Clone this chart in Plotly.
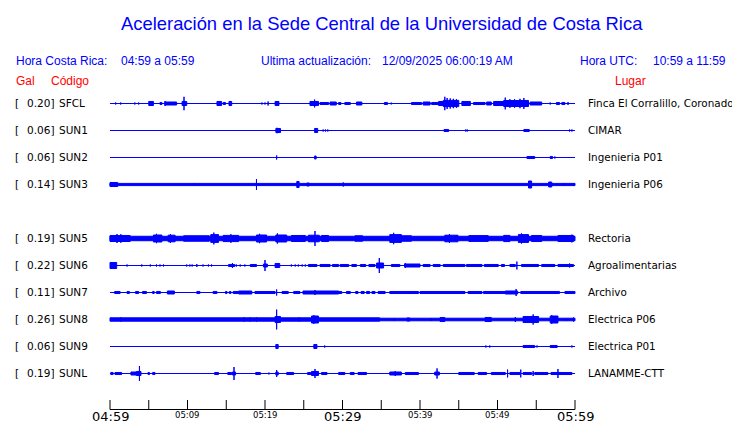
import plotly.graph_objects as go

# ---------------- data ----------------
stations = ["SFCL", "SUN1", "SUN2", "SUN3", "SUN5", "SUN6", "SUN7", "SUN8", "SUN9", "SUNL"]
peak_gal = ["0.20", "0.06", "0.06", "0.14", "0.19", "0.22", "0.11", "0.26", "0.06", "0.19"]
places = ["Finca El Corralillo, Coronado", "CIMAR", "Ingenieria P01", "Ingenieria P06",
          "Rectoria", "Agroalimentarias", "Archivo", "Electrica P06", "Electrica P01", "LANAMME-CTT"]

tick_labels = ["04:59", "05:04", "05:09", "05:14", "05:19", "05:24", "05:29",
               "05:34", "05:39", "05:44", "05:49", "05:54", "05:59"]

# envelope segments: (start minute, end minute, half amplitude in Gal)
sfcl_events = [
    (0.73, 0.73, 0.038), (1.38, 1.38, 0.038), (2.2, 2.2, 0.025), (3.2, 3.2, 0.038), (3.7, 3.7, 0.038),
    (4.7, 4.7, 0.025), (5.0, 5.6, 0.063), (6.45, 6.7, 0.038), (7.1, 8.6, 0.05), (7.1, 7.1, 0.075),
    (9.3, 9.9, 0.063), (9.55, 9.55, 0.18), (10.9, 10.9, 0.025), (12.9, 12.9, 0.025), (13.8, 14.4, 0.063),
    (14.6, 14.9, 0.038), (15.35, 15.7, 0.063), (16.3, 16.3, 0.025), (19.05, 19.05, 0.025),
    (19.6, 19.6, 0.038), (20.0, 20.0, 0.038), (20.4, 20.4, 0.063), (21.3, 21.8, 0.063),
    (25.4, 25.4, 0.025), (25.8, 26.9, 0.063), (26.4, 26.4, 0.11), (27.1, 28.2, 0.038), (28.4, 29.2, 0.05),
    (29.5, 29.8, 0.038), (30.3, 31.0, 0.038), (31.8, 32.5, 0.05), (32.8, 32.8, 0.025), (33.8, 33.8, 0.025),
    (34.3, 34.3, 0.025), (35.4, 35.8, 0.038), (36.2, 36.4, 0.025), (38.5, 38.5, 0.025), (38.9, 40.2, 0.038),
    (40.4, 41.3, 0.05), (41.5, 42.4, 0.038), (42.4, 43.0, 0.063), (43.0, 45.0, 0.09), (43.2, 43.2, 0.18),
    (43.5, 43.5, 0.15), (43.9, 43.9, 0.14), (44.3, 44.3, 0.13), (44.7, 44.7, 0.12), (45.4, 46.5, 0.063),
    (46.9, 48.4, 0.038), (48.6, 49.2, 0.05), (49.5, 50.8, 0.063), (50.8, 54.0, 0.088), (51.0, 51.0, 0.16),
    (51.6, 51.6, 0.12), (52.2, 52.2, 0.12), (52.9, 52.9, 0.13), (53.4, 53.4, 0.15), (54.2, 55.7, 0.05),
    (56.8, 56.8, 0.038), (57.6, 58.0, 0.038), (58.3, 58.7, 0.038), (59.1, 59.1, 0.05),
]
sun1_events = [
    (19.65, 19.65, 0.025), (21.4, 22.0, 0.063), (21.5, 21.6, 0.075), (26.4, 26.8, 0.063), (27.5, 27.5, 0.038),
    (27.8, 27.8, 0.038), (28.1, 28.1, 0.038), (43.1, 43.7, 0.038), (45.9, 45.9, 0.038), (46.1, 46.1, 0.038),
    (48.6, 48.6, 0.025), (51.3, 51.3, 0.025), (52.0, 52.0, 0.025), (53.4, 54.1, 0.038), (59.3, 59.3, 0.038),
    (59.6, 59.6, 0.038),
]
sun2_events = [
    (21.5, 21.5, 0.063), (26.4, 26.6, 0.05), (27.7, 27.7, 0.025), (53.8, 54.8, 0.038), (56.8, 57.1, 0.038),
    (57.4, 57.4, 0.038),
]
sun3_events = [
    (0.0, 60.0, 0.04), (0.0, 1.0, 0.063), (10.9, 10.9, 0.05), (18.9, 18.9, 0.15), (24.1, 24.4, 0.088),
    (25.4, 25.7, 0.05), (30.1, 30.1, 0.063), (54.0, 54.4, 0.1), (56.6, 57.0, 0.075), (58.5, 58.5, 0.05),
    (59.8, 59.8, 0.05),
]
sun5_events = [
    (0.0, 60.0, 0.068), (0.0, 2.6, 0.088), (0.9, 0.9, 0.125), (1.4, 1.4, 0.12), (5.6, 6.7, 0.1),
    (6.0, 6.0, 0.13), (7.5, 8.4, 0.095), (7.8, 7.8, 0.12), (9.5, 12.8, 0.08), (13.0, 14.0, 0.11),
    (13.4, 13.4, 0.16), (14.6, 16.6, 0.09), (15.6, 15.6, 0.12), (18.9, 20.2, 0.1), (19.3, 19.3, 0.13),
    (21.4, 22.8, 0.1), (21.6, 21.6, 0.14), (23.4, 25.2, 0.088), (25.6, 27.0, 0.095), (26.45, 26.45, 0.2),
    (27.3, 28.2, 0.088), (31.6, 32.6, 0.08), (36.1, 37.6, 0.11), (36.6, 36.6, 0.155), (37.6, 38.9, 0.08),
    (43.2, 44.9, 0.095), (43.8, 43.8, 0.12), (46.3, 48.8, 0.085), (50.8, 51.6, 0.09), (52.7, 54.0, 0.11),
    (53.1, 53.1, 0.14), (54.4, 55.7, 0.088), (57.8, 59.8, 0.088), (59.6, 59.6, 0.11),
]
sun6_events = [
    (0.0, 0.86, 0.088), (2.2, 2.2, 0.038), (4.1, 4.1, 0.038), (5.2, 5.2, 0.038), (6.0, 6.0, 0.038),
    (6.45, 6.45, 0.038), (6.9, 6.9, 0.038), (7.5, 7.5, 0.025), (9.0, 9.0, 0.025), (9.9, 9.9, 0.038),
    (10.3, 10.3, 0.038), (10.6, 10.6, 0.038), (11.2, 11.2, 0.05), (12.0, 12.0, 0.038), (12.7, 12.7, 0.038),
    (13.1, 13.1, 0.038), (15.3, 16.1, 0.038), (15.8, 15.8, 0.075), (16.3, 16.3, 0.038), (16.8, 16.8, 0.038),
    (17.4, 17.4, 0.038), (18.1, 18.9, 0.038), (19.8, 20.3, 0.05), (20.0, 20.0, 0.15), (21.3, 21.9, 0.063),
    (23.4, 23.4, 0.038), (23.9, 23.9, 0.038), (24.3, 24.3, 0.038), (24.8, 24.8, 0.038), (25.2, 25.2, 0.038),
    (25.6, 26.7, 0.038), (27.1, 28.4, 0.038), (28.7, 29.5, 0.038), (29.7, 30.8, 0.038), (31.2, 31.8, 0.038),
    (32.3, 33.0, 0.038), (33.4, 34.2, 0.038), (34.4, 35.3, 0.075), (34.75, 34.75, 0.2), (36.3, 37.4, 0.038),
    (38.0, 40.0, 0.05), (38.1, 38.1, 0.075), (40.4, 41.3, 0.038), (41.7, 42.6, 0.038), (43.0, 45.8, 0.038),
    (46.0, 48.0, 0.038), (48.3, 50.1, 0.038), (50.5, 50.9, 0.038), (51.6, 52.3, 0.038), (52.5, 52.5, 0.11),
    (53.1, 55.3, 0.038), (55.7, 57.4, 0.038), (57.8, 59.8, 0.038), (59.3, 59.3, 0.063),
]
sun7_events = [
    (0.6, 1.3, 0.038), (2.2, 2.5, 0.038), (3.3, 3.7, 0.038), (4.2, 4.7, 0.038), (5.5, 5.7, 0.038),
    (6.0, 6.5, 0.038), (7.4, 8.3, 0.05), (9.6, 9.6, 0.025), (11.2, 11.6, 0.038), (12.5, 12.5, 0.025),
    (13.3, 13.8, 0.038), (14.9, 15.1, 0.038), (15.4, 15.6, 0.038), (15.9, 16.6, 0.038), (16.6, 18.3, 0.05),
    (18.7, 21.3, 0.038), (21.5, 21.5, 0.088), (22.2, 23.0, 0.038), (23.7, 24.5, 0.038), (24.9, 29.5, 0.05),
    (26.45, 26.45, 0.075), (29.5, 29.9, 0.038), (30.5, 31.0, 0.038), (31.7, 32.0, 0.038), (32.4, 32.8, 0.038),
    (33.1, 33.5, 0.038), (33.8, 34.2, 0.038), (34.6, 35.5, 0.038), (36.1, 39.8, 0.038), (38.8, 38.8, 0.05),
    (40.0, 45.8, 0.038), (46.2, 48.0, 0.038), (48.2, 51.0, 0.038), (51.0, 52.6, 0.05), (52.4, 52.4, 0.1),
    (53.0, 58.0, 0.038), (58.7, 60.0, 0.038),
]
sun8_events = [
    (0.0, 34.8, 0.055), (34.8, 60.0, 0.045), (1.4, 1.4, 0.063), (17.3, 17.3, 0.063), (18.1, 18.1, 0.063),
    (18.9, 18.9, 0.063), (21.3, 22.0, 0.088), (21.5, 21.5, 0.26), (24.4, 24.4, 0.063), (26.0, 26.9, 0.1),
    (26.3, 26.3, 0.12), (29.8, 29.8, 0.05), (36.7, 36.7, 0.05), (38.3, 38.7, 0.05), (41.4, 41.4, 0.05),
    (42.6, 43.2, 0.063), (48.4, 49.2, 0.063), (52.3, 52.3, 0.075), (53.3, 55.3, 0.088), (54.6, 54.6, 0.14),
    (56.8, 57.8, 0.1), (57.0, 57.0, 0.12), (58.9, 58.9, 0.05), (59.8, 59.8, 0.063),
]
sun9_events = [
    (4.0, 4.0, 0.025), (16.5, 16.5, 0.025), (21.4, 21.7, 0.063), (26.3, 26.7, 0.063), (27.7, 27.7, 0.038),
    (36.9, 36.9, 0.025), (37.7, 37.7, 0.025), (38.6, 38.6, 0.025), (42.6, 42.6, 0.025), (47.1, 47.1, 0.025),
    (48.5, 48.5, 0.038), (49.0, 49.0, 0.038), (49.7, 49.7, 0.025), (52.3, 52.3, 0.025), (53.3, 54.8, 0.038),
    (53.6, 53.6, 0.05), (55.1, 55.1, 0.038), (56.1, 56.1, 0.025), (56.8, 57.7, 0.038), (59.6, 59.6, 0.038),
]
sunl_events = [
    (0.1, 0.4, 0.038), (0.65, 1.5, 0.038), (1.85, 1.85, 0.025), (2.7, 3.4, 0.05), (3.4, 4.0, 0.063),
    (3.8, 3.8, 0.2), (4.9, 5.1, 0.038), (5.5, 5.8, 0.038), (10.9, 10.9, 0.025), (11.3, 11.3, 0.025),
    (11.6, 11.6, 0.025), (13.5, 14.0, 0.038), (15.2, 15.7, 0.038), (15.8, 16.2, 0.05), (16.0, 16.0, 0.175),
    (17.8, 17.8, 0.025), (18.8, 19.4, 0.038), (19.8, 19.8, 0.025), (20.4, 20.6, 0.025), (21.4, 21.7, 0.05),
    (21.5, 21.5, 0.1), (22.8, 23.7, 0.038), (24.1, 24.1, 0.025), (24.7, 24.7, 0.025), (25.5, 25.9, 0.038),
    (26.0, 26.9, 0.063), (26.45, 26.45, 0.125), (27.3, 28.0, 0.038), (28.6, 28.6, 0.025), (29.5, 30.3, 0.038),
    (31.0, 31.5, 0.038), (32.0, 33.1, 0.038), (33.7, 33.7, 0.025), (34.2, 34.2, 0.025), (35.0, 35.0, 0.025),
    (36.1, 37.6, 0.05), (36.8, 36.8, 0.075), (38.1, 39.8, 0.038), (40.4, 40.4, 0.025), (40.8, 40.8, 0.025),
    (41.3, 41.3, 0.025), (41.9, 42.5, 0.05), (42.2, 42.2, 0.14), (43.0, 43.0, 0.025), (44.1, 44.1, 0.025),
    (45.0, 47.0, 0.038), (47.5, 48.6, 0.038), (49.2, 51.0, 0.038), (51.3, 51.3, 0.11), (51.6, 52.9, 0.038),
    (53.0, 53.0, 0.11), (53.3, 54.4, 0.038), (54.6, 54.6, 0.075), (54.8, 56.5, 0.038), (56.9, 59.6, 0.038),
    (57.8, 57.8, 0.125),
]
station_events = [sfcl_events, sun1_events, sun2_events, sun3_events, sun5_events,
                  sun6_events, sun7_events, sun8_events, sun9_events, sunl_events]

# ---------------- layout ----------------
# The page body has an 8px margin, so the figure is sized to fill the rest of the window and
# every position below is given in window pixels, then shifted by OFF.
OFF = 8
WIN_W, WIN_H = 740, 423
W, H = WIN_W - OFF, WIN_H - OFF
X0_PX, PX_PER_MIN = 110, 7.75          # window x of 04:59 and horizontal scale
PAD_PX = 2
PAD_MIN = PAD_PX / PX_PER_MIN
ML = X0_PX - OFF - PAD_PX
PLOT_W = 60 * PX_PER_MIN + 2 * PAD_PX
MR = W - ML - PLOT_W
GAIN = 40.0                            # px per Gal
ROW0, ROW_STEP = 103.5, 27             # half-pixel so 1px lines stay crisp
SLOTS = [0, 1, 2, 3, 5, 6, 7, 8, 9, 10]  # SUN4 slot left empty
BLUE, RED, BLACK = "#0000ff", "#ff0000", "#000000"
SANS = "Liberation Sans, Arial, sans-serif"
DEJAVU = "DejaVu Sans, sans-serif"


def paper_x(px):
    return (px - OFF - ML) / PLOT_W


def paper_y(py):
    return 1 - (py - OFF) / H


fig = go.Figure()

# baselines
bx, by = [], []
for slot in SLOTS:
    b = ROW0 + ROW_STEP * slot
    bx += [0, 60, None]
    by += [b, b, None]
fig.add_trace(go.Scatter(x=bx, y=by, mode="lines", line=dict(color=BLUE, width=1),
                         hoverinfo="skip", showlegend=False))

# envelopes
for slot, events in zip(SLOTS, station_events):
    b = ROW0 + ROW_STEP * slot
    xs, ys = [], []
    for t0, t1, a in events:
        h = max(a * GAIN - 0.5, 0.0)
        xs += [t0, t1, t1, t0, t0, None]
        ys += [b - h, b - h, b + h, b + h, b - h, None]
    fig.add_trace(go.Scatter(x=xs, y=ys, mode="lines", fill="toself", fillcolor=BLUE,
                             line=dict(color=BLUE, width=1), hoverinfo="skip", showlegend=False))

ann = []


def text(px, py, s, size, color, family=SANS, anchor="left"):
    ann.append(dict(x=paper_x(px), y=paper_y(py), xref="paper", yref="paper", text=s, showarrow=False,
                    xanchor=anchor, yanchor="middle", borderpad=0,
                    font=dict(size=size, color=color, family=family)))


# header
text(382, 23, "Aceleración en la Sede Central de la Universidad de Costa Rica", 18.4, BLUE, anchor="center")
text(15, 61, "Hora Costa Rica:", 12, BLUE)
text(120, 61, "04:59 a 05:59", 12, BLUE)
text(260, 61, "Ultima actualización:", 12, BLUE)
text(381, 61, "12/09/2025 06:00:19 AM", 12, BLUE)
text(579, 61, "Hora UTC:", 12, BLUE)
text(652, 61, "10:59 a 11:59", 12, BLUE)
text(15, 81, "Gal", 12, RED)
text(50, 81, "Código", 12, RED)
text(647, 81, "Lugar", 12, RED, anchor="right")

# row labels
for slot, st, g, pl in zip(SLOTS, stations, peak_gal, places):
    b = ROW0 - 0.5 + ROW_STEP * slot
    text(14, b, "[", 10.5, BLACK, DEJAVU)
    text(55, b, g + "]", 10.5, BLACK, DEJAVU, anchor="right")
    text(58, b, st, 10.5, BLACK, DEJAVU)
    text(587, b, pl, 10.4, BLACK, DEJAVU)

# time axis
AX_Y, TICK_TOP = 409.5, 400
shapes = [dict(type="line", xref="x", yref="y", x0=0, x1=60, y0=AX_Y, y1=AX_Y,
               line=dict(color=BLACK, width=1))]
for i, lab in enumerate(tick_labels):
    m = i * 5
    shapes.append(dict(type="line", xref="x", yref="y", x0=m, x1=m, y0=TICK_TOP, y1=AX_Y,
                       line=dict(color=BLACK, width=1)))
    px = X0_PX + m * PX_PER_MIN
    if i % 6 == 0:
        text(px, 416, lab, 13, BLACK, DEJAVU, anchor="center")
    elif i % 2 == 0:
        text(px, 415, lab, 8.5, BLACK, DEJAVU, anchor="center")

fig.update_layout(
    width=W, height=H,
    margin=dict(l=ML, r=MR, t=0, b=0, pad=0),
    paper_bgcolor="white", plot_bgcolor="white",
    xaxis=dict(range=[-PAD_MIN, 60 + PAD_MIN], visible=False, fixedrange=True),
    yaxis=dict(range=[WIN_H, OFF], visible=False, fixedrange=True),
    annotations=ann, shapes=shapes, showlegend=False,
)

fig.write_html("out.html")
